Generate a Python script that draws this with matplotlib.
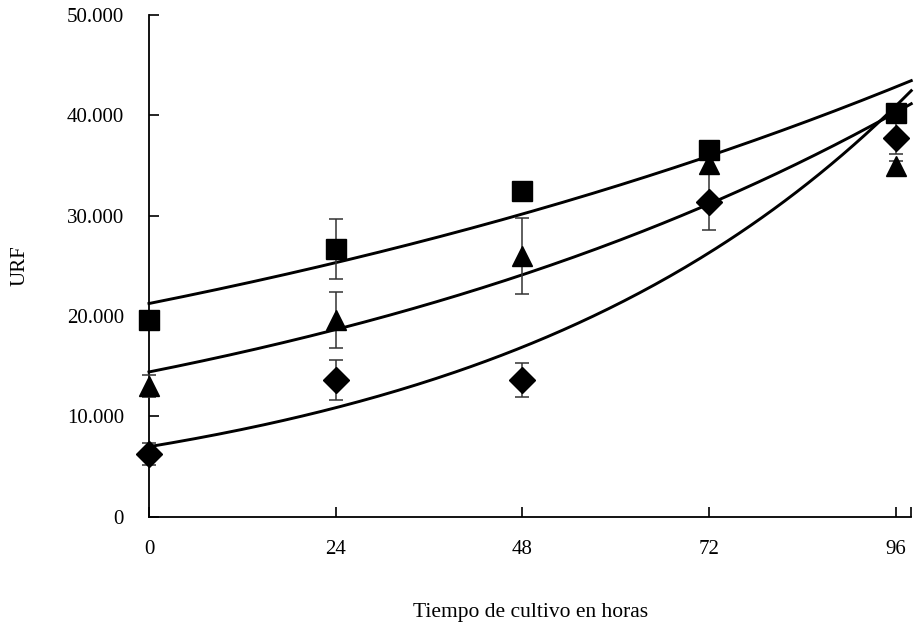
import numpy as np
import matplotlib.pyplot as plt
from matplotlib.ticker import FuncFormatter

plt.rcParams["font.family"] = ["Liberation Serif", "DejaVu Serif"]

# culture time (h)
hours = [0, 24, 48, 72, 96]

# URF per series (mean) and error (+/-)
urf_square = [19600, 26700, 32500, 36600, 40200]
err_square = [500, 3000, 500, 500, 500]
urf_triangle = [13000, 19600, 26000, 35200, 35000]
err_triangle = [1100, 2800, 3800, 500, 500]
urf_diamond = [6300, 13600, 13600, 31400, 37800]
err_diamond = [1100, 2000, 1700, 2800, 1600]

x_end = 98
y_ticks = [0, 10000, 20000, 30000, 40000, 50000]

series = [
    (urf_square, err_square, "s", 14),
    (urf_triangle, err_triangle, "^", 14),
    (urf_diamond, err_diamond, "D", 13),
]

fig = plt.figure(figsize=(9.14, 6.31), dpi=100)
ax = fig.add_axes([0.163, 0.181, 0.834, 0.795])

xs = np.linspace(0, x_end, 200)
for vals, errs, marker, ms in series:
    # Excel-style exponential trendline: fit ln(y) against x
    b, ln_a = np.polyfit(hours, np.log(vals), 1)
    ax.plot(xs, np.exp(ln_a) * np.exp(b * xs), color="black", lw=2.1, zorder=2,
            clip_on=False)
    ax.errorbar(hours, vals, yerr=errs, fmt="none", ecolor="#333333",
                elinewidth=1.1, capsize=4.8, capthick=1.1, zorder=3, clip_on=False)
    ax.plot(hours, vals, ls="none", marker=marker, ms=ms, color="black",
            zorder=4, clip_on=False)

ax.set_xlim(0, x_end)
ax.set_ylim(0, 50000)
ax.set_xticks(hours + [x_end])
ax.set_xticklabels([str(h) for h in hours] + [""])
ax.set_yticks(y_ticks)
ax.yaxis.set_major_formatter(FuncFormatter(lambda v, _: f"{int(v):,}".replace(",", ".")))

for side in ("top", "right"):
    ax.spines[side].set_visible(False)
for side in ("left", "bottom"):
    ax.spines[side].set_linewidth(1.3)
ax.tick_params(axis="both", direction="in", length=7, width=1.2, labelsize=15)
ax.tick_params(axis="x", pad=17)
ax.tick_params(axis="y", pad=18)

ax.set_xlabel("Tiempo de cultivo en horas", fontsize=15.5, va="top")
ax.xaxis.set_label_coords(0.5, -0.171)
ax.set_ylabel("URF", fontsize=15)
ax.yaxis.set_label_coords(-0.157, 0.5)

fig.savefig("out.png", dpi=100)
